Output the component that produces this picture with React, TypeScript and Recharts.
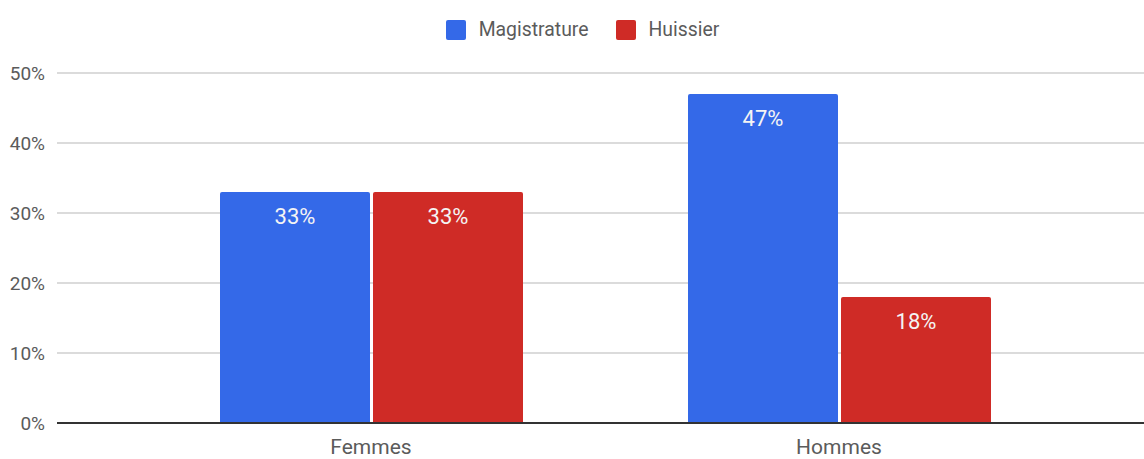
import { BarChart, Bar, XAxis, YAxis, CartesianGrid, Legend, LabelList } from 'recharts';

const categories = ['Femmes', 'Hommes'];
const magistrature = [33, 47];
const huissier = [33, 18];
const yTicks = [0, 10, 20, 30, 40, 50];

const SERIES = [
  { key: 'magistrature', name: 'Magistrature', color: '#3469e8' },
  { key: 'huissier', name: 'Huissier', color: '#cf2b26' },
];

const data = categories.map((name, i) => ({
  name,
  magistrature: magistrature[i],
  huissier: huissier[i],
}));

const FONT = 'Roboto, "Noto Sans", sans-serif';

// legend drawn by hand so the square size and spacing match
const renderLegend = () => (
  <div style={{ display: 'flex', justifyContent: 'center', paddingLeft: 48, fontFamily: FONT, height: 23 }}>
    {SERIES.map((s) => (
      <div key={s.key} style={{ display: 'flex', alignItems: 'center', marginRight: 27 }}>
        <span style={{ width: 20, height: 20, borderRadius: 2, background: s.color, display: 'inline-block', marginRight: 13 }} />
        <span style={{ fontSize: 19.4, color: '#5b5b5b' }}>{s.name}</span>
      </div>
    ))}
  </div>
);

export default function App() {
  return (
    <div style={{ position: 'absolute', left: 0, top: 0, width: 1144, height: 459, background: '#fff' }}>
      <BarChart
        width={1144}
        height={459}
        data={data}
        margin={{ top: 50, right: 0, left: 0, bottom: 0 }}
        barCategoryGap={83}
        barGap={3}
      >
        <CartesianGrid vertical={false} stroke="#cfcfcf" strokeWidth={1.5} />
        <XAxis
          dataKey="name"
          height={36}
          padding={{ left: 80, right: 71 }}
          axisLine={{ stroke: '#333', strokeWidth: 2 }}
          tickLine={false}
          tickSize={0}
          tickMargin={16}
          tick={{ fontSize: 21, fill: '#5b5b5b', fontFamily: FONT }}
        />
        <YAxis
          width={57}
          domain={[0, 50]}
          ticks={yTicks}
          axisLine={false}
          tickLine={false}
          tickSize={0}
          tickMargin={12}
          tickFormatter={(v) => `${v}%`}
          tick={{ fontSize: 19, fill: '#5b5b5b', fontFamily: FONT }}
        />
        <Legend
          verticalAlign="top"
          content={renderLegend}
          wrapperStyle={{ top: 18, left: 0, width: 1144 }}
        />
        {SERIES.map((s) => (
          <Bar key={s.key} dataKey={s.key} name={s.name} fill={s.color} radius={[2, 2, 0, 0]} isAnimationActive={false}>
            <LabelList
              dataKey={s.key}
              position="insideTop"
              offset={16}
              formatter={(v: any) => `${v}%`}
              style={{ fontSize: 22, fill: '#f4f4f4', fontFamily: FONT }}
            />
          </Bar>
        ))}
      </BarChart>
    </div>
  );
}
